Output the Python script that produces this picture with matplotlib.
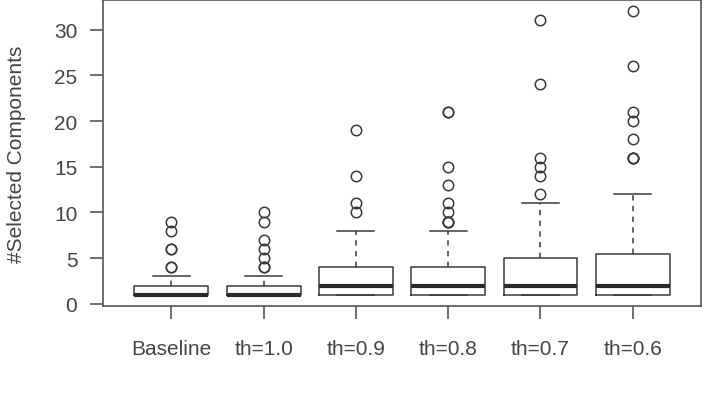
import matplotlib
matplotlib.use("Agg")
import matplotlib.pyplot as plt

plt.rcParams['font.family'] = ['Liberation Sans', 'DejaVu Sans']

labels = ["Baseline", "th=1.0", "th=0.9", "th=0.8", "th=0.7", "th=0.6"]
q1 = [1, 1, 1, 1, 1, 1]
med = [1, 1, 2, 2, 2, 2]
q3 = [2, 2, 4, 4, 5, 5.5]
whislo = [1, 1, 1, 1, 1, 1]
whishi = [3, 3, 8, 8, 11, 12]
fliers = [
    [4, 4, 6, 6, 8, 9],
    [4, 4, 5, 6, 7, 9, 10],
    [10, 11, 14, 19],
    [9, 9, 9, 10, 11, 13, 15, 21, 21],
    [12, 14, 15, 16, 24, 31],
    [16, 16, 16, 18, 20, 21, 26, 32],
]
yticks = [0, 5, 10, 15, 20, 25, 30]

stats = []
for i in range(len(labels)):
    stats.append(dict(label=labels[i], q1=q1[i], med=med[i], q3=q3[i],
                      whislo=whislo[i], whishi=whishi[i], fliers=fliers[i]))

fig = plt.figure(figsize=(7.11, 4.02), dpi=100)
ax = fig.add_axes([0.1449, 0.2363, 0.8411, 0.7612])

lc = '#3a3a3a'
ax.bxp(stats, positions=range(1, 7), widths=0.8, showfliers=True,
       boxprops=dict(color=lc, linewidth=1.1),
       medianprops=dict(color='#2a2a2a', linewidth=3, solid_capstyle='butt'),
       whiskerprops=dict(color=lc, linewidth=1.1, linestyle=(0, (3.5, 3.5))),
       capprops=dict(color=lc, linewidth=1.1),
       capwidths=0.4,
       flierprops=dict(marker='o', markersize=7.5, markerfacecolor='none',
                       markeredgecolor=lc, markeredgewidth=1.1))

ax.set_xlim(0.26, 6.74)
ax.set_ylim(-0.24, 33.24)
ax.set_yticks(yticks)
ax.set_yticklabels([str(t) for t in yticks])
ax.set_xticks(range(1, 7))
ax.set_xticklabels(labels)

tc = '#444444'
for s in ax.spines.values():
    s.set_color('#555555')
    s.set_linewidth(1.2)
ax.tick_params(axis='both', direction='out', length=9.5, width=1.2,
               color='#555555', labelcolor=tc, labelsize=15)
ax.tick_params(axis='x', pad=14)
ax.tick_params(axis='y', pad=9)
ax.set_ylabel("#Selected Components", fontsize=15, color=tc, labelpad=20)

fig.savefig("out.png", dpi=100)
